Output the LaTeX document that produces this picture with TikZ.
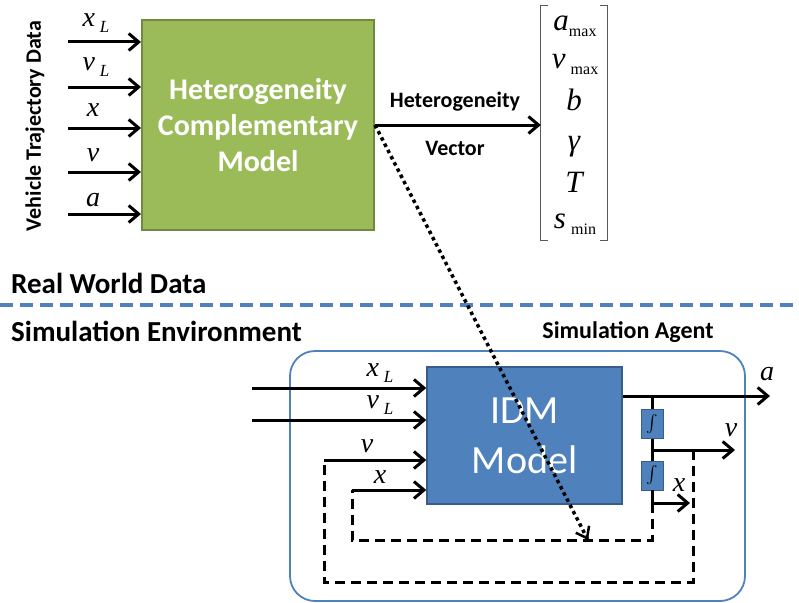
\documentclass[tikz,border=0pt]{standalone}
\usepackage{amsmath}
\usepackage{fontspec}
\setmainfont{Carlito}
\newfontfamily\termfont{Liberation Serif}
\usetikzlibrary{arrows.meta}

\definecolor{olivefill}{HTML}{9BBB59}
\definecolor{olivedraw}{HTML}{71893F}
\definecolor{bluefill}{HTML}{4F81BD}
\definecolor{bluedraw}{HTML}{385D8A}

% italic variable names, Times-like
\newcommand{\var}[1]{{\termfont\itshape #1}}
\newcommand{\varsub}[2]{{\termfont\itshape #1\,\raisebox{-6pt}{\fontsize{17}{17}\selectfont #2}}}
\newcommand{\parsub}[2]{{\termfont\itshape #1\raisebox{-6pt}{\upshape\fontsize{16}{16}\selectfont #2}}}

\tikzset{
  sig/.style={line width=3pt, ->},
  fb/.style={line width=3pt, dash pattern=on 10pt off 6pt},
  lbl/.style={font=\fontsize{28}{28}\selectfont, inner sep=0pt},
  parlbl/.style={font=\fontsize{31}{31}\selectfont, inner sep=0pt},
  heading/.style={font=\fontsize{29}{29}\selectfont\bfseries, inner sep=0pt},
  smallhead/.style={font=\fontsize{22}{22}\selectfont\bfseries, inner sep=0pt},
  integ/.style={draw=bluedraw, fill=bluefill, minimum width=22pt, minimum height=29pt, inner sep=0pt, font=\fontsize{18}{18}\selectfont},
}

\begin{document}
\begin{tikzpicture}[x=1pt, y=-1pt, >={Straight Barb[length=10pt, width=17pt, line width=3pt]}]
\useasboundingbox (0,0) rectangle (799,602);
		%top
			%left side
			\node[rotate=90, font=\fontsize{22}{22}\selectfont\bfseries, inner sep=0pt] (trajdata) at (35,126) {Vehicle Trajectory Data};
			\node[draw=olivedraw, line width=2pt, fill=olivefill, minimum width=232pt, minimum height=210pt, text=white, align=center,
			      font=\fontsize{30}{36}\selectfont\bfseries] (hcm) at (258,125) {Heterogeneity\\Complementary\\Model};
			\coordinate (inxl) at (68,42);
			\coordinate (invl) at (68,87);
			\coordinate (inx) at (68,128);
			\coordinate (inv) at (68,172);
			\coordinate (ina) at (68,214);
			\draw[sig] (inxl) -- (inxl -| hcm.west);
			\draw[sig] (invl) -- (invl -| hcm.west);
			\draw[sig] (inx) -- (inx -| hcm.west);
			\draw[sig] (inv) -- (inv -| hcm.west);
			\draw[sig] (ina) -- (ina -| hcm.west);
			\node[lbl] (lxl) at (96,23) {\varsub{x}{L}};
			\node[lbl] (lvl) at (96,67) {\varsub{v}{L}};
			\node[lbl] (lx) at (93,110) {\var{x}};
			\node[lbl] (lv) at (93,155) {\var{v}};
			\node[lbl] (la) at (93,200) {\var{a}};
			% right side
			\node[minimum width=66pt, minimum height=234pt, inner sep=0pt] (vec) at (574,123) {};
			\draw[line width=1.2pt, black!65] (vec.north west) ++(7,0) -- (vec.north west) -- (vec.south west) -- ++(7,0);
			\draw[line width=1.2pt, black!65] (vec.north east) ++(-7,0) -- (vec.north east) -- (vec.south east) -- ++(-7,0);
			\node[parlbl] (amax) at (575,26) {\parsub{a}{max}};
			\node[parlbl] (vmax) at (575,64) {\parsub{v\,}{max}};
			\node[parlbl] (bpar) at (574,100) {\var{b}};
			\node[parlbl] (gpar) at (574,147) {\var{γ}};
			\node[parlbl] (tpar) at (574,182) {\var{T}};
			\node[parlbl] (smin) at (575,224) {\parsub{s\,}{min}};
			%arrow
			\draw[sig] (hcm.east) -- (hcm.east -| vec.west);
			\node[smallhead] (hv1) at (455,102) {Heterogeneity};
			\node[smallhead] (hv2) at (455,148) {Vector};
		%separator
			\draw[bluefill, line width=4pt, dash pattern=on 13pt off 7pt] (0,305) -- (799,305);
			\node[heading, anchor=west] (real) at (11,283) {Real World Data};
			\node[heading, anchor=west] (sim) at (11,331) {Simulation Environment};
		%bottom
			\node[draw=bluefill, line width=1.8pt, rounded corners=25pt, minimum width=455pt, minimum height=250pt] (agent) at (517.5,476) {};
			\node[smallhead, font=\fontsize{24}{24}\selectfont\bfseries] (agentlbl) at (628,332) {Simulation Agent};
			\node[draw=bluedraw, line width=1.5pt, fill=bluefill, minimum width=195pt, minimum height=137pt, text=white, align=center,
			      font=\fontsize{40}{50}\selectfont] (idm) at (524.5,435.5) {IDM\\Model};
			\node[integ] (int1) at (652,424) {$\int$};
			\node[integ] (int2) at (652,475.5) {$\int$};
			%inputs
			\coordinate (sxl) at (252,388);
			\coordinate (svl) at (252,420);
			\coordinate (sv) at (324,460);
			\coordinate (sx) at (352,490);
			\draw[sig] (sxl) -- (sxl -| idm.west);
			\draw[sig] (svl) -- (svl -| idm.west);
			\draw[sig] (sv) -- (sv -| idm.west);
			\draw[sig] (sx) -- (sx -| idm.west);
			\node[lbl] (mxl) at (380,373) {\varsub{x}{L}};
			\node[lbl] (mvl) at (380,405) {\varsub{v}{L}};
			\node[lbl] (mv) at (367,446) {\var{v}};
			\node[lbl] (mx) at (380,477) {\var{x}};
			%outputs
			\coordinate (oa) at (770,396);
			\coordinate (ov) at (735,450);
			\coordinate (ox) at (690,503);
			\draw[sig] (oa -| idm.east) -- (oa);
			\draw[line width=3pt] (oa -| int1) -- (int1.north);
			\draw[line width=3pt] (int1.south) -- (int2.north);
			\draw[line width=3pt] (int2.south) -- (ox -| int2);
			\draw[sig] (ov -| int1) -- (ov);
			\draw[sig] (ox -| int2) -- (ox);
			\node[lbl] (oal) at (767,374) {\var{a}};
			\node[lbl] (ovl) at (731,430) {\var{v}};
			\node[lbl] (oxl) at (679,485) {\var{x}};
			%feedback
			\draw[fb] (693,450) -- (693,582) -| (sv);
			\draw[fb] (ox -| int2) -- (652,540) -| (sx);
			%dotted link
			\coordinate (hend) at (588,540);
			\draw[line width=3.5pt, dash pattern=on 3.5pt off 3.5pt] (hcm.east) -- (hend);
			\draw[->, line width=2pt, >={Straight Barb[length=10pt, width=15pt, line width=2.5pt]}] (hend) ++(-2.3,-4.4) -- (hend);
\end{tikzpicture}
\end{document}
